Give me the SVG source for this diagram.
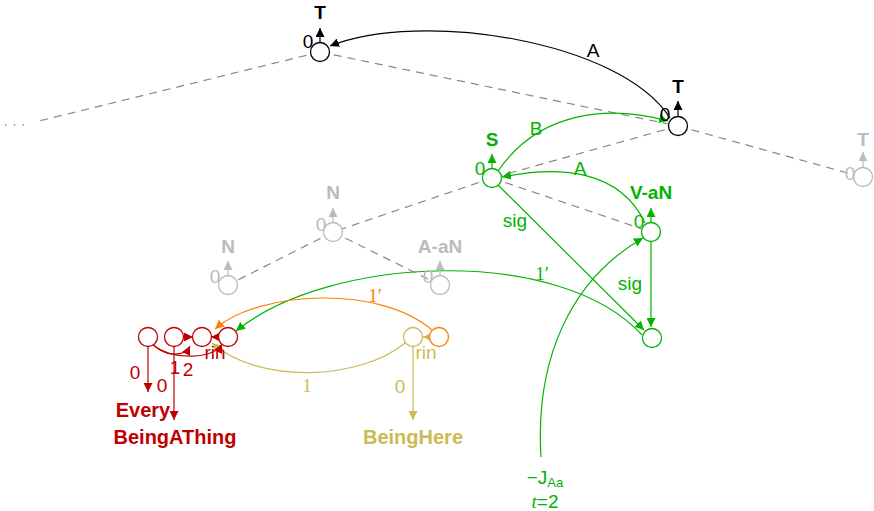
<svg xmlns="http://www.w3.org/2000/svg" width="874" height="511" viewBox="0 0 874 511">
<style>
text{font-family:"Liberation Sans",Arial,sans-serif;font-size:19px;text-anchor:middle}
.b{font-weight:bold}
.big{font-size:20px}
.serif{font-family:"Liberation Serif","Times New Roman",serif}
.dash{stroke:#888;stroke-width:1.2;stroke-dasharray:8 6;fill:none}
.nk{fill:#fff;stroke:#000;stroke-width:1.3}
.ng{fill:#fff;stroke:#00b400;stroke-width:1.3}
.ngr{fill:#fff;stroke:#bbb;stroke-width:1.3}
.nr{fill:#fff;stroke:#c00000;stroke-width:1.3}
.ny{fill:#fff;stroke:#ccbb55;stroke-width:1.3}
.no{fill:#fff;stroke:#ff8000;stroke-width:1.3}
.ek{stroke:#000;stroke-width:1.2;fill:none;marker-end:url(#ak)}
.eg{stroke:#00b400;stroke-width:1.2;fill:none;marker-end:url(#ag)}
.egr{stroke:#bbb;stroke-width:1.2;fill:none;marker-end:url(#agr)}
.er{stroke:#c00000;stroke-width:1.2;fill:none;marker-end:url(#ar)}
.ey{stroke:#ccbb55;stroke-width:1.2;fill:none;marker-end:url(#ay)}
.eo{stroke:#ff8000;stroke-width:1.2;fill:none;marker-end:url(#ao)}
.tk{fill:#000}.tg{fill:#00b400}.tgr{fill:#bbb}.tr{fill:#c00000}.ty{fill:#ccbb55}.to{fill:#ff8000}
</style>
<defs>
<marker id="ak" viewBox="0 0 10 10" refX="10" refY="5" markerWidth="9" markerHeight="9" markerUnits="userSpaceOnUse" orient="auto"><path d="M0,0L10,5L0,10z" fill="#000"/></marker>
<marker id="ag" viewBox="0 0 10 10" refX="10" refY="5" markerWidth="9" markerHeight="9" markerUnits="userSpaceOnUse" orient="auto"><path d="M0,0L10,5L0,10z" fill="#00b400"/></marker>
<marker id="agr" viewBox="0 0 10 10" refX="10" refY="5" markerWidth="9" markerHeight="9" markerUnits="userSpaceOnUse" orient="auto"><path d="M0,0L10,5L0,10z" fill="#bbb"/></marker>
<marker id="ar" viewBox="0 0 10 10" refX="10" refY="5" markerWidth="9" markerHeight="9" markerUnits="userSpaceOnUse" orient="auto"><path d="M0,0L10,5L0,10z" fill="#c00000"/></marker>
<marker id="ay" viewBox="0 0 10 10" refX="10" refY="5" markerWidth="9" markerHeight="9" markerUnits="userSpaceOnUse" orient="auto"><path d="M0,0L10,5L0,10z" fill="#ccbb55"/></marker>
<marker id="ao" viewBox="0 0 10 10" refX="10" refY="5" markerWidth="9" markerHeight="9" markerUnits="userSpaceOnUse" orient="auto"><path d="M0,0L10,5L0,10z" fill="#ff8000"/></marker>
</defs>
<g id="tree">
<line class="dash" x1="320" y1="52" x2="35" y2="122"/>
<line x1="5" y1="125" x2="26" y2="125" stroke="#888" stroke-width="1.3" stroke-dasharray="1.3 7.5"/>
<line class="dash" x1="320" y1="52" x2="678" y2="126"/>
<line class="dash" x1="678" y1="126" x2="862" y2="177"/>
<line class="dash" x1="678" y1="126" x2="492" y2="178"/>
<line class="dash" x1="492" y1="178" x2="651" y2="232"/>
<line class="dash" x1="492" y1="178" x2="333" y2="232"/>
<line class="dash" x1="333" y1="232" x2="228" y2="285"/>
<line class="dash" x1="333" y1="232" x2="440" y2="285"/>
</g>
<g id="connectors">
<path class="ek" d="M670,118 C620,40 420,10 330,46"/>
<text class="tk" x="593" y="57">A</text>
<path class="eg" d="M498,171 C540,110 610,105 668,121"/>
<text class="tg" x="536" y="135">B</text>
<path class="eg" d="M645,223 C620,170 560,165 502,177"/>
<text class="tg" x="580" y="175">A</text>
<line class="eg" x1="498" y1="185" x2="644" y2="330"/>
<text class="tg" x="515" y="227">sig</text>
<line class="eg" x1="651" y1="242" x2="651" y2="327"/>
<text class="tg" x="630" y="290">sig</text>
<path class="eg" d="M642,335 C560,245 330,255 236,331"/>
<text class="tg serif" x="542" y="280">1′</text>
<path class="eg" d="M541,457 C535,360 570,280 643,238"/>
<path class="eo" d="M432,330 C380,285 260,290 215,329"/>
<text class="to serif" x="375" y="302">1′</text>
<path class="ey" d="M405,343 C360,380 260,385 212,343"/>
<text class="ty serif" x="307" y="392">1</text>
<line class="ey" x1="429" y1="337" x2="423" y2="337"/>
<text class="ty" x="426" y="359">rin</text>
<line class="ey" x1="413" y1="347" x2="413" y2="420"/>
<text class="ty" x="400" y="393">0</text>
<line class="er" x1="148" y1="346" x2="148" y2="392"/>
<text class="tr" x="135" y="379">0</text>
<line class="er" x1="174" y1="346" x2="174" y2="420"/>
<text class="tr" x="162" y="392">0</text>
<line class="er" x1="184" y1="337" x2="193" y2="337"/>
<line class="er" x1="219" y1="337" x2="211" y2="337"/>
<path class="er" d="M153,344 C162,356 184,358 190,346"/>
<path class="er" d="M153,345 C175,362 215,358 222,344"/>
<text class="tr" x="175" y="374">1</text>
<text class="tr" x="188" y="376">2</text>
<text class="tr" x="215" y="359">rin</text>
</g>
<g id="T1"><circle class="nk" cx="320" cy="52" r="9.5"/><line class="ek" x1="320" y1="42" x2="320" y2="28"/><text class="tk" x="308" y="48">0</text><text class="tk b" x="320" y="19">T</text></g>
<g id="T2"><circle class="nk" cx="678" cy="126" r="9.5"/><line class="ek" x1="678" y1="116" x2="678" y2="101"/><text class="tk" x="665" y="121">0</text><text class="tk b" x="678" y="93">T</text></g>
<g id="T3"><circle class="ngr" cx="863" cy="177" r="9.5"/><line class="egr" x1="863" y1="167" x2="863" y2="152"/><text class="tgr" x="850" y="180">0</text><text class="tgr b" x="863" y="146">T</text></g>
<g id="S"><circle class="ng" cx="492" cy="178" r="9.5"/><line class="eg" x1="492" y1="168" x2="492" y2="154"/><text class="tg" x="480" y="175">0</text><text class="tg b" x="492" y="146">S</text></g>
<g id="VaN"><circle class="ng" cx="651" cy="232" r="9.5"/><line class="eg" x1="651" y1="222" x2="651" y2="208"/><text class="tg" x="639" y="228">0</text><text class="tg b" x="651" y="199">V-aN</text></g>
<g id="sig"><circle class="ng" cx="652" cy="338" r="9.5"/></g>
<g id="N1"><circle class="ngr" cx="333" cy="232" r="9.5"/><line class="egr" x1="333" y1="222" x2="333" y2="208"/><text class="tgr" x="321" y="231">0</text><text class="tgr b" x="333" y="199">N</text></g>
<g id="N2"><circle class="ngr" cx="228" cy="285" r="9.5"/><line class="egr" x1="228" y1="275" x2="228" y2="261"/><text class="tgr" x="215" y="283">0</text><text class="tgr b" x="228" y="253">N</text></g>
<g id="AaN"><circle class="ngr" cx="440" cy="285" r="9.5"/><line class="egr" x1="440" y1="275" x2="440" y2="261"/><text class="tgr" x="428" y="283">0</text><text class="tgr b" x="440" y="253">A-aN</text></g>
<g id="r1"><circle class="nr" cx="148" cy="337" r="9.5"/></g>
<g id="r2"><circle class="nr" cx="174" cy="337" r="9.5"/></g>
<g id="r3"><circle class="nr" cx="202" cy="337" r="9.5"/></g>
<g id="r4"><circle class="nr" cx="228" cy="337" r="9.5"/></g>
<g id="y1"><circle class="ny" cx="413" cy="337" r="9.5"/></g>
<g id="o1"><circle class="no" cx="439" cy="337" r="9.5"/></g>
<g id="Every"><text class="tr b big" x="143" y="417">Every</text></g>
<g id="BeingAThing"><text class="tr b big" x="175" y="444">BeingAThing</text></g>
<g id="BeingHere"><text class="ty b big" x="413" y="444">BeingHere</text></g>
<g id="J"><text class="tg" x="545" y="484">−J<tspan font-size="13" dy="3">Aa</tspan></text><text class="tg" x="545" y="508"><tspan class="serif" font-style="italic">t</tspan>=2</text></g>
</svg>
